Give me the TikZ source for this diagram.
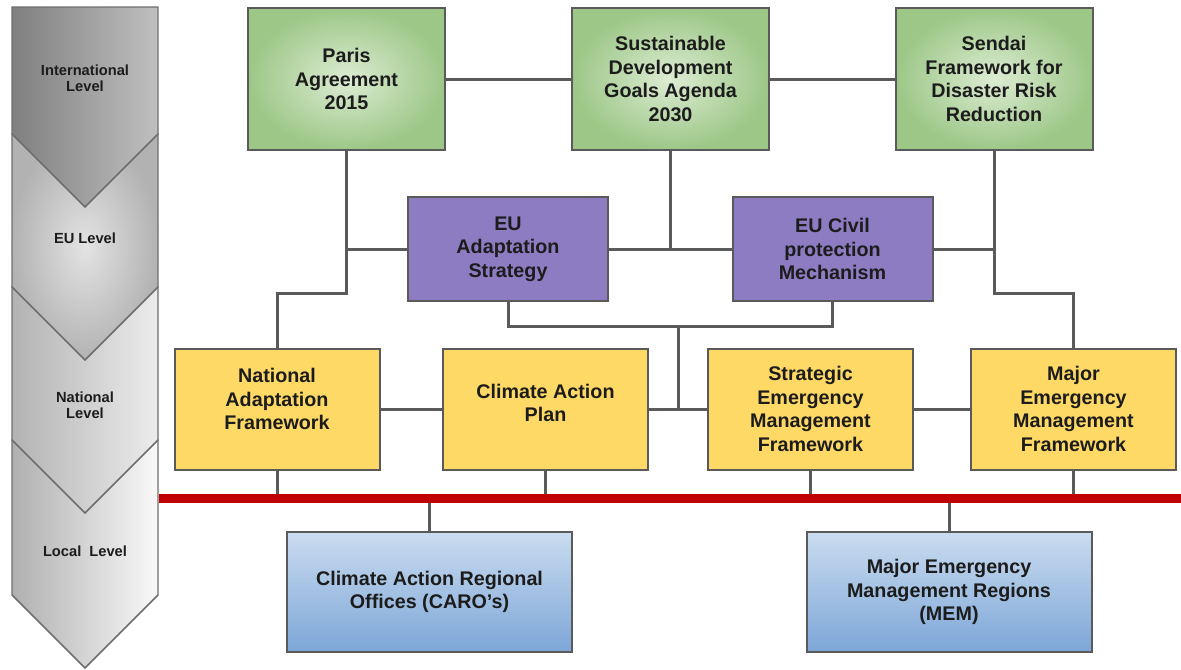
\documentclass[tikz,border=0pt]{standalone}
\usepackage{fontspec}
\setmainfont{Liberation Sans}
\usepackage{tikz}
\definecolor{gray700}{HTML}{5A5A5A}
\definecolor{gray600}{HTML}{6E6E6E}
\definecolor{green300}{HTML}{9CC787}
\definecolor{green100}{HTML}{DDECD3}
\definecolor{purple400}{HTML}{8E7CC3}
\definecolor{yellow300}{HTML}{FFD966}
\definecolor{blue100}{HTML}{CADCF0}
\definecolor{blue300}{HTML}{7DA6D7}
\definecolor{red700}{HTML}{C00000}
\definecolor{ink}{HTML}{1C1C1C}
\tikzstyle{block}=[draw=gray700, line width=1.5pt, align=center, text=ink, inner sep=2pt, font=\bfseries\fontsize{14.8}{17.6}\selectfont]
\tikzstyle{intl}=[block, inner color=green100, outer color=green300, minimum width=147.75pt, minimum height=106.5pt]
\tikzstyle{eu}=[block, fill=purple400, minimum width=150pt, minimum height=78pt]
\tikzstyle{natl}=[block, fill=yellow300, minimum width=153.75pt, minimum height=90.75pt]
\tikzstyle{regional}=[block, top color=blue100, bottom color=blue300, minimum width=213.75pt, minimum height=90pt]
\tikzstyle{levellabel}=[align=center, text=ink, font=\bfseries\fontsize{11}{12.2}\selectfont]
\tikzstyle{level}=[draw=gray600, line width=1.1pt]
\tikzstyle{link}=[draw=gray700, line width=2.25pt]

\begin{document}
\begin{tikzpicture}[x=0.75pt, y=-0.75pt]
			\useasboundingbox (0,0) rectangle (1181,669);
			\path[level, left color=gray!62, right color=gray!5] (12,440)--(158,440)--(158,595)--(85,668)--(12,595)--cycle;
			\path[level, left color=gray!60, right color=gray!15] (12,287)--(158,287)--(158,440)--(85,513)--(12,440)--cycle;
			\path[level, inner color=gray!22, outer color=gray!60] (12,134)--(158,134)--(158,287)--(85,360)--(12,287)--cycle;
			\path[level, left color=gray!100, right color=gray!50] (12,7)--(158,7)--(158,134)--(85,207)--(12,134)--cycle;
			\node[levellabel] (lintl) at (85,78) {International\\Level};
			\node[levellabel] (leu) at (85,238) {EU Level};
			\node[levellabel] (lnatl) at (85,405) {National\\Level};
			\node[levellabel] (llocal) at (85,551) {Local\ \ Level};

			\node[intl] (paris) at (346.5,79) {Paris\\Agreement\\2015};
			\node[intl] (sdg) at (670.5,79) {Sustainable\\Development\\Goals Agenda\\2030};
			\node[intl] (sendai) at (994,79) {Sendai\\Framework for\\Disaster Risk\\Reduction};
			\node[eu] (euas) at (508,249) {EU\\Adaptation\\Strategy};
			\node[eu] (eucpm) at (832.5,249) {EU Civil\\protection\\Mechanism};
			\node[natl, text depth=15pt] (naf) at (277,409) {National\\Adaptation\\Framework};
			\node[natl, text depth=9pt] (cap) at (545.5,409) {Climate Action\\Plan};
			\node[natl] (semf) at (810.5,409) {Strategic\\Emergency\\Management\\Framework};
			\node[natl] (memf) at (1073.5,409) {Major\\Emergency\\Management\\Framework};
			\node[regional] (caro) at (429.5,592) {Climate Action Regional\\Offices (CARO's)};
			\node[regional] (mem) at (949,592) {Major Emergency\\Management Regions\\(MEM)};

			\coordinate (ljoin) at (277,293);
			\coordinate (rjoin) at (1073.5,293);
			\coordinate (mjoin) at (678,326);
			\coordinate (redl) at (159,498);
			\coordinate (redr) at (1181,498);
			\path[link]
				(paris.east)--(sdg.west) (sdg.east)--(sendai.west)
				(euas.east)--(eucpm.west)
				(sdg.south)--(sdg.south |- euas.east);
			\path[link] (paris.south) |- (euas.west);
			\path[link] (paris.south) |- (ljoin)--(naf.north);
			\path[link] (sendai.south) |- (eucpm.east);
			\path[link] (sendai.south) |- (rjoin)--(memf.north);
			\path[link] (euas.south) |- (mjoin) -| (eucpm.south);
			\path[link] (mjoin)--(mjoin |- cap.east);
			\path[link]
				(naf.east)--(cap.west) (cap.east)--(semf.west) (semf.east)--(memf.west);
			\foreach \n in {naf,cap,semf,memf}
				\path[link] (\n.south)--(\n.south |- redl);
			\foreach \n in {caro,mem}
				\path[link] (\n.north)--(\n.north |- redl);
			\path[draw=red700, line width=6.75pt] (redl)--(redr);
		\end{tikzpicture}
\end{document}
